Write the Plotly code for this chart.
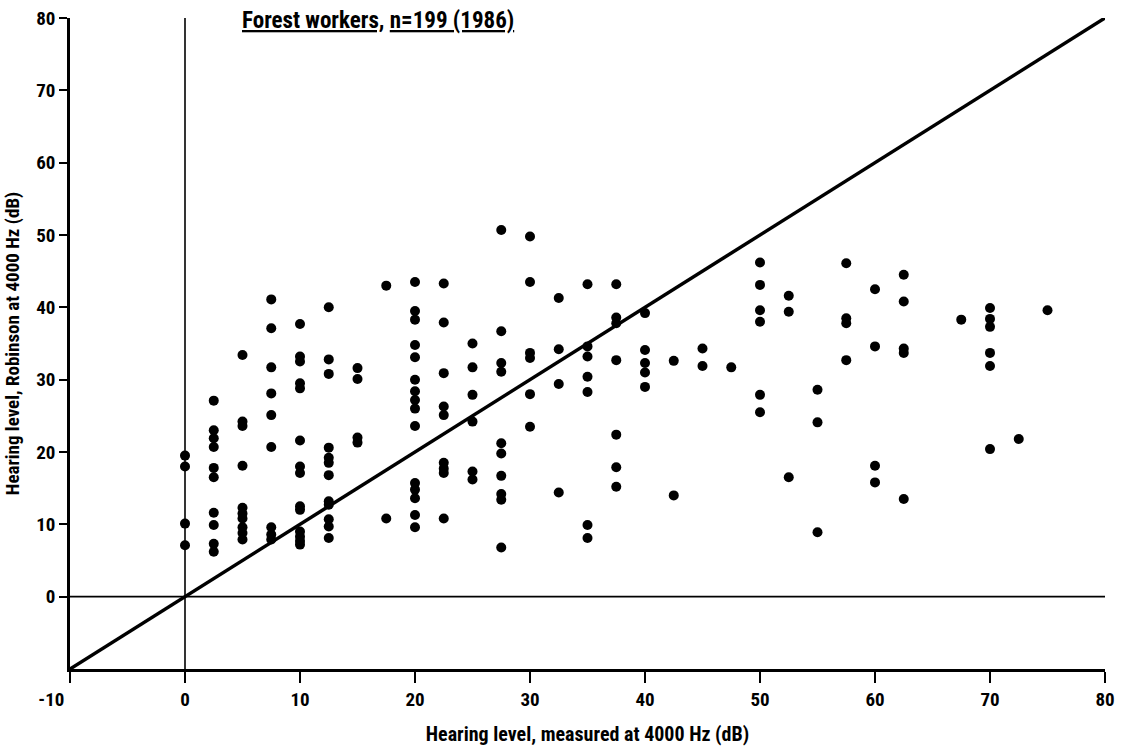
import plotly.graph_objects as go

# Data (measured x, Robinson prediction y)
col_x = [0, 2.5, 5, 7.5, 10, 12.5, 15, 17.5, 20, 22.5, 25, 27.5, 30, 32.5, 35,
         37.5, 40, 42.5, 45, 47.5, 50, 52.5, 55, 57.5, 60, 62.5, 67.5, 70, 72.5, 75]
col_y = [
    [19.5, 18.0, 10.1, 7.1],
    [27.1, 23.0, 21.9, 20.7, 17.8, 16.5, 11.6, 9.9, 7.3, 6.2],
    [33.4, 24.2, 23.6, 18.1, 12.3, 11.5, 10.8, 9.6, 8.8, 7.9],
    [41.1, 37.1, 31.7, 28.1, 25.1, 20.7, 9.6, 8.6, 7.9],
    [37.7, 33.2, 32.5, 29.5, 28.8, 21.6, 18.0, 17.1, 12.5, 12.0, 9.0, 8.3, 7.7, 7.2],
    [40.0, 32.8, 30.8, 20.6, 19.2, 18.5, 16.8, 13.2, 12.7, 10.7, 9.7, 8.1],
    [31.6, 30.1, 22.0, 21.3],
    [43.0, 10.8],
    [43.5, 39.5, 38.3, 34.8, 33.1, 30.0, 28.4, 27.2, 26.0, 23.6, 15.7, 14.8, 13.6, 11.3, 9.6],
    [43.3, 37.9, 30.9, 26.3, 25.1, 18.5, 17.7, 17.1, 10.8],
    [35.0, 31.7, 27.9, 24.2, 17.3, 16.2],
    [50.7, 36.7, 32.3, 31.1, 21.2, 19.8, 16.7, 14.2, 13.4, 6.8],
    [49.8, 43.5, 33.7, 33.0, 28.0, 23.5],
    [41.3, 34.2, 29.4, 14.4],
    [43.2, 34.6, 33.2, 30.4, 28.3, 9.9, 8.1],
    [43.2, 38.6, 37.8, 32.7, 22.4, 17.9, 15.2],
    [39.2, 34.1, 32.3, 31.0, 29.0],
    [32.6, 14.0],
    [34.3, 31.9],
    [31.7],
    [46.2, 43.1, 39.6, 38.0, 27.9, 25.5],
    [41.6, 39.4, 16.5],
    [28.6, 24.1, 8.9],
    [46.1, 38.5, 37.8, 32.7],
    [42.5, 34.6, 18.1, 15.8],
    [44.5, 40.8, 34.3, 33.7, 13.5],
    [38.3],
    [39.9, 38.4, 37.3, 33.7, 31.9, 20.4],
    [21.8],
    [39.6],
]
identity_line = [-10, 80]
x_ticks = [-10, 0, 10, 20, 30, 40, 50, 60, 70, 80]
x_ticktext = ["-10\u2007\u2007\u2007\u2007", "0", "10", "20", "30", "40", "50", "60", "70", "80"]
y_ticks = [0, 10, 20, 30, 40, 50, 60, 70, 80]

pts_x, pts_y = [], []
for cx, ys in zip(col_x, col_y):
    for v in ys:
        pts_x.append(cx)
        pts_y.append(v)

FONT = "Liberation Sans Narrow, Roboto Condensed, DejaVu Sans Condensed, Arial Narrow, sans-serif"

fig = go.Figure()
fig.add_trace(go.Scatter(x=identity_line, y=identity_line, mode="lines",
                         line=dict(color="black", width=3.5), hoverinfo="skip",
                         showlegend=False, cliponaxis=False))
fig.add_trace(go.Scatter(x=pts_x, y=pts_y, mode="markers",
                         marker=dict(color="black", size=10, line=dict(width=0)),
                         showlegend=False))

# reference lines at 0
fig.add_shape(type="line", x0=0, x1=0, y0=-10, y1=80, xref="x", yref="y",
              line=dict(color="black", width=1.6), layer="below")
fig.add_shape(type="line", x0=-10, x1=80, y0=0, y1=0, xref="x", yref="y",
              line=dict(color="black", width=1.6), layer="below")

fig.add_annotation(text="<u>Forest workers,</u> <u>n=199 (1986)</u>",
                   xref="paper", yref="paper", x=0.298, y=0.996,
                   xanchor="center", yanchor="middle", showarrow=False,
                   font=dict(family=FONT, size=23, color="black", weight="bold"))

fig.update_layout(
    width=1128, height=746,
    margin=dict(l=70, r=23, t=18, b=77),
    paper_bgcolor="white", plot_bgcolor="white",
    font=dict(family=FONT, size=18, color="black", weight="bold"),
    xaxis=dict(range=[-10, 80], tickvals=x_ticks, ticktext=x_ticktext,
               automargin=False,
               showgrid=False, zeroline=False, showline=True, linecolor="black",
               linewidth=2.5, ticks="outside", ticklen=11, tickwidth=2,
               tickcolor="black",
               title=dict(text="Hearing level, measured at 4000 Hz (dB)",
                          font=dict(family=FONT, size=20, weight="bold"), standoff=20),
               tickfont=dict(family=FONT, size=19, weight="bold")),
    yaxis=dict(range=[-10, 80], tickvals=y_ticks, ticktext=[str(t) for t in y_ticks],
               automargin=False,
               showgrid=False, zeroline=False, showline=True, linecolor="black",
               linewidth=2.5, ticks="outside", ticklen=8, tickwidth=2,
               tickcolor="black",
               title=dict(text="Hearing level, Robinson at 4000 Hz (dB)",
                          font=dict(family=FONT, size=19, weight="bold"), standoff=12),
               tickfont=dict(family=FONT, size=19, weight="bold")),
)

fig.write_html("out.html")
